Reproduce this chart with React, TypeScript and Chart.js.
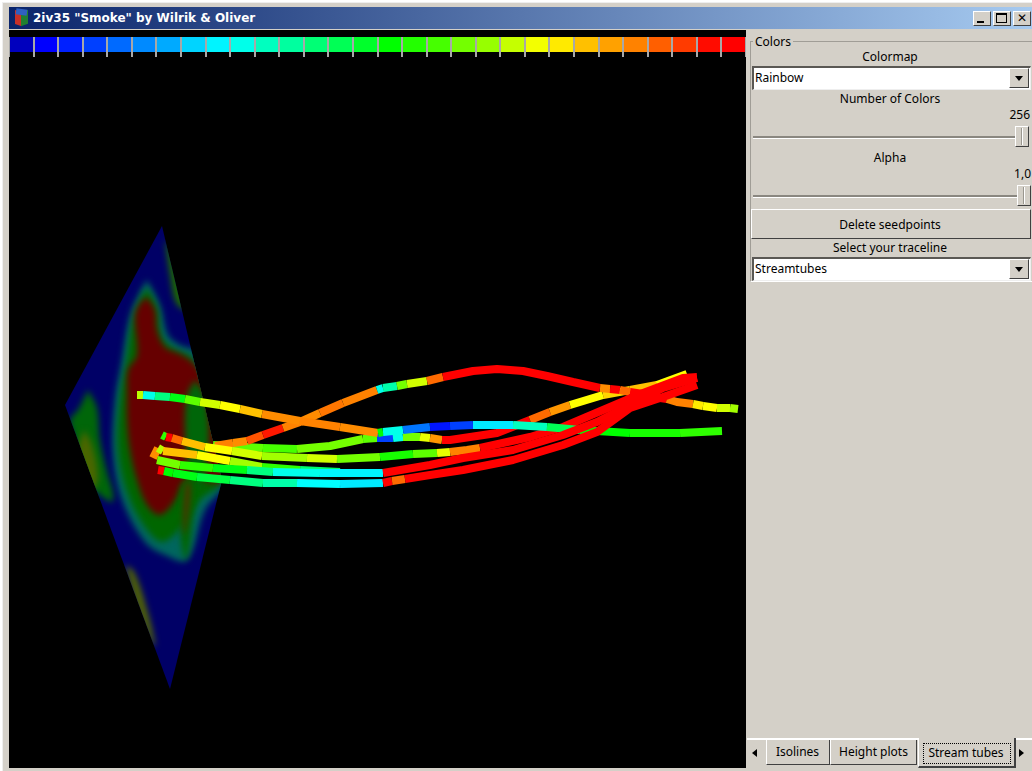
import React, { useEffect, useRef } from "react";
import { Chart, registerables } from "chart.js";

Chart.register(...registerables);

// ---------- colour bar ----------
const colorbarValues = [0.0, 0.04, 0.07, 0.1, 0.14, 0.17, 0.2, 0.24, 0.27, 0.3, 0.34, 0.37, 0.41, 0.44, 0.48, 0.52, 0.55, 0.58, 0.62, 0.65, 0.69, 0.73, 0.76, 0.8, 0.83, 0.86, 0.89, 0.92, 0.96, 1.0];
const colorbarLabels = ["1","2","3","4","5","6","7","8","9","10","11","12","13","14","15","16","17","18","19","20","21","22","23","24","25","26","27","28","29","30"];

// ---------- slice plane (outlines in view coordinates) ----------
const sliceX = [162, 65, 170, 222, 162];
const sliceY = [226, 405, 689, 480, 226];
const sliceLevel = 0.04;

const tealX = [147, 160, 168, 180, 197, 212, 226, 205, 187, 165, 145, 122, 113, 115, 122, 130, 140, 147];
const tealY = [280, 305, 335, 345, 352, 395, 480, 510, 560, 555, 542, 500, 455, 400, 360, 315, 292, 280];
const tealLevel = 0.3;

const greenX = [147, 157, 162, 176, 192, 208, 222, 200, 183, 163, 147, 128, 118, 120, 126, 133, 141, 147];
const greenY = [288, 308, 338, 350, 358, 398, 480, 500, 525, 542, 530, 495, 450, 400, 365, 320, 298, 288];
const greenLevel = 0.52;

const redX = [147, 155, 157, 165, 178, 190, 200, 212, 222, 196, 183, 175, 160, 147, 137, 130, 127, 127, 128, 137, 135, 141, 147];
const redY = [297, 310, 330, 347, 353, 360, 372, 410, 480, 480, 482, 500, 515, 505, 480, 450, 420, 395, 370, 355, 315, 302, 297];
const redLevel = 1;

const ovalX = [195, 205, 209, 206, 198, 189, 185, 187, 195];
const ovalY = [380, 396, 430, 470, 490, 470, 430, 396, 380];
const ovalLevel = 0.5;

const stripeX = [186, 196, 192, 186, 181, 180, 186];
const stripeY = [478, 480, 525, 560, 540, 505, 478];
const stripeLevel = 0.52;

const stripeCoreX = [186, 190, 187, 184, 184, 186];
const stripeCoreY = [482, 484, 520, 535, 510, 482];
const stripeCoreLevel = 0.9;

const blobX = [88, 97, 100, 108, 113, 112, 100, 84, 74, 70, 78, 88];
const blobY = [390, 408, 440, 475, 492, 502, 495, 482, 440, 420, 410, 390];
const blobLevel = 0.5;

const blobCoreX = [84, 92, 98, 92, 84, 78, 84];
const blobCoreY = [430, 445, 478, 490, 478, 450, 430];
const blobCoreLevel = 0.68;

const edgeTopX = [165, 172, 190, 186, 176, 170, 165];
const edgeTopY = [240, 250, 305, 310, 303, 275, 240];
const edgeTopLevel = 0.58;

const edgeLowX = [125, 134, 147, 155, 152, 138, 125];
const edgeLowY = [565, 572, 610, 645, 645, 610, 565];
const edgeLowLevel = 0.7;

// ---------- stream tubes ----------
const tubeAX = [137, 143, 155, 170, 185, 200, 220, 240, 262, 300, 340, 378, 383, 403, 430, 450, 473, 513, 547, 580, 630, 680, 722];
const tubeAY = [395, 395, 396, 397, 399, 402, 405, 409, 414, 421, 427, 433, 432, 430, 427, 426, 425, 425, 427, 430, 433, 433, 431];
const tubeAV = [0.68, 0.3, 0.4, 0.5, 0.6, 0.7, 0.74, 0.8, 0.85, 0.86, 0.85, 0.52, 0.3, 0.15, 0.06, 0.1, 0.26, 0.34, 0.44, 0.52, 0.54, 0.56, 0.56];

const tubeBX = [215, 233, 247, 263, 283, 300, 320, 343, 377, 383, 397, 407, 427, 443, 473, 497, 523, 547, 573, 600, 610, 620, 630, 643, 653, 667, 677, 693, 703, 717, 730, 738];
const tubeBY = [446, 443, 441, 435, 428, 422, 413, 403, 390, 388, 386, 384, 381, 377, 371, 369, 371, 376, 382, 388, 389, 390, 392, 394, 397, 399, 402, 404, 406, 408, 408, 409];
const tubeBV = [0.86, 0.85, 0.9, 0.95, 0.86, 0.85, 0.87, 0.86, 0.3, 0.36, 0.62, 0.7, 0.88, 1, 1, 1, 1, 1, 1, 0.85, 1, 0.88, 1, 0.86, 1, 0.86, 0.86, 0.76, 0.74, 0.7, 0.66, 0.66];

const tubeCX = [162, 166, 172, 182, 205, 232, 262, 307, 337, 380, 413, 437, 450, 467, 480, 530, 563, 603, 643, 683, 697];
const tubeCY = [435, 437, 438, 441, 447, 451, 456, 458, 459, 457, 454, 453, 452, 450, 448, 437, 427, 410, 393, 378, 377];
const tubeCV = [0.56, 1, 0.88, 0.8, 0.74, 0.7, 0.66, 0.7, 0.62, 0.54, 0.6, 0.72, 0.86, 0.86, 1, 1, 1, 1, 1, 1, 1];

const tubeDX = [213, 263, 297, 330, 363, 377, 393, 403, 420, 430, 442, 450, 497, 530, 550, 570, 603, 630, 657, 687];
const tubeDY = [445, 448, 449, 446, 439, 438, 438, 437, 437, 438, 440, 440, 433, 420, 412, 405, 395, 390, 385, 374];
const tubeDV = [0.6, 0.58, 0.62, 0.62, 0.6, 0.1, 0.3, 0.62, 0.72, 0.84, 1, 1, 1, 0.88, 0.84, 0.74, 0.78, 0.8, 0.74, 0.72];

const tubeEX = [158, 164, 173, 197, 230, 263, 297, 340, 383, 392, 405, 430, 463, 513, 563, 597, 630, 663, 697];
const tubeEY = [470, 471, 473, 477, 480, 483, 483, 484, 483, 481, 479, 475, 470, 460, 445, 432, 408, 397, 385];
const tubeEV = [1, 0.52, 0.5, 0.46, 0.4, 0.36, 0.28, 0.26, 0.97, 0.88, 1, 1, 1, 1, 1, 1, 1, 1, 1];

const tubeFX = [157, 180, 213, 247, 273, 320, 383, 430, 463, 513, 563, 597, 630, 663, 697];
const tubeFY = [460, 465, 468, 470, 472, 473, 473, 465, 458, 450, 435, 422, 405, 388, 378];
const tubeFV = [0.62, 0.56, 0.5, 0.4, 0.3, 0.27, 1, 1, 1, 1, 1, 1, 1, 1, 1];

const tubeGX = [153, 158, 163, 197, 230, 262, 300, 340];
const tubeGY = [458, 448, 451, 455, 461, 467, 470, 472];
const tubeGV = [0.85, 0.68, 0.8, 0.74, 0.66, 0.56, 0.42, 0.32];

const STOPS: [number, number[]][] = [
  [0, [0, 0, 190]],
  [0.04, [0, 0, 255]],
  [0.28, [0, 255, 255]],
  [0.52, [0, 255, 0]],
  [0.74, [255, 255, 0]],
  [0.86, [255, 130, 0]],
  [0.97, [255, 0, 0]],
  [1, [255, 0, 0]],
];

function rainbow(v: number, k = 1) {
  for (let i = 1; i < STOPS.length; i++) {
    if (v <= STOPS[i][0]) {
      const [a, ca] = STOPS[i - 1];
      const [b, cb] = STOPS[i];
      const t = (v - a) / (b - a);
      const c = ca.map((q, j) => Math.round((q + (cb[j] - q) * t) * k));
      return `rgb(${c[0]},${c[1]},${c[2]})`;
    }
  }
  return `rgb(${255 * k},0,0)`;
}

const points = (xs: number[], ys: number[]) => xs.map((x, i) => ({ x, y: ys[i] }));

function region(label: string, xs: number[], ys: number[], level: number, order: number, tension = 0.35) {
  return {
    label,
    data: points(xs, ys),
    order,
    fill: "shape",
    backgroundColor: rainbow(level, 0.4),
    borderWidth: 0,
    borderColor: "transparent",
    pointRadius: 0,
    tension,
  };
}

function tube(label: string, xs: number[], ys: number[], vs: number[], order: number) {
  return {
    label,
    data: points(xs, ys),
    order,
    fill: false,
    borderWidth: 8,
    borderColor: rainbow(vs[0]),
    borderCapStyle: "butt",
    borderJoinStyle: "bevel",
    pointRadius: 0,
    tension: 0,
    segment: { borderColor: (c: any) => rainbow(vs[c.p0DataIndex]) },
  };
}

const softenPlugin = {
  id: "soften",
  afterDatasetDraw(chart: any, args: any) {
    const label = chart.data.datasets[args.index].label;
    const ctx = chart.ctx;
    if (label === "slice") {
      const sx = chart.scales.x;
      const sy = chart.scales.y;
      ctx.save();
      ctx.beginPath();
      sliceX.forEach((x, i) => {
        const px = sx.getPixelForValue(x);
        const py = sy.getPixelForValue(sliceY[i]);
        if (i === 0) ctx.moveTo(px, py);
        else ctx.lineTo(px, py);
      });
      ctx.closePath();
      ctx.clip();
      ctx.filter = "blur(3px)";
    }
    if (label === "edgeLow") {
      ctx.restore();
    }
  },
};

const FONT = '"Noto Sans", sans-serif';
const FACE = "#d4d0c8";

function Text({ x, y, w, align, children, color, font }: any) {
  return (
    <div
      style={{
        position: "absolute",
        left: x,
        top: y - 9,
        width: w,
        height: 18,
        lineHeight: "18px",
        textAlign: align || "center",
        fontFamily: font || FONT,
        fontSize: 12,
        color: color || "#000",
        whiteSpace: "nowrap",
      }}
    >
      {children}
    </div>
  );
}

function Box({ x, y, w, h, style }: any) {
  return <div style={{ position: "absolute", left: x, top: y, width: w, height: h, boxSizing: "border-box", ...style }} />;
}

const raised = {
  background: FACE,
  borderTop: "1px solid #fff",
  borderLeft: "1px solid #fff",
  borderRight: "1px solid #404040",
  borderBottom: "1px solid #404040",
};

function Combo({ y, label }: any) {
  return (
    <>
      <Box x={752} y={y} w={279} h={24} style={{ background: "#fff", borderTop: "2px solid #5a5854", borderLeft: "2px solid #5a5854", borderRight: "1px solid #eee", borderBottom: "1px solid #eee" }} />
      <Text x={755} y={y + 12} w={200} align="left">{label}</Text>
      <Box x={1009} y={y + 2} w={20} h={20} style={raised} />
      <Box x={1015} y={y + 10} w={0} h={0} style={{ borderLeft: "4px solid transparent", borderRight: "4px solid transparent", borderTop: "5px solid #000" }} />
    </>
  );
}

function Slider({ y, handle }: any) {
  return (
    <>
      <Box x={753} y={y} w={276} h={3} style={{ background: "#8a8780", borderBottom: "1px solid #fff" }} />
      <Box x={handle} y={y - 10} w={14} h={21} style={raised} />
      <Box x={handle + 6} y={y - 8} w={2} h={17} style={{ borderLeft: "1px solid #9a978f", borderRight: "1px solid #fff" }} />
    </>
  );
}

export default function App() {
  const mainRef = useRef<HTMLCanvasElement>(null);
  const barRef = useRef<HTMLCanvasElement>(null);

  useEffect(() => {
    const main = new Chart(mainRef.current!, {
      type: "line",
      data: {
        datasets: [
          tube("Tube A", tubeAX, tubeAY, tubeAV, 3),
          tube("Tube B", tubeBX, tubeBY, tubeBV, 5),
          tube("Tube C", tubeCX, tubeCY, tubeCV, 4),
          tube("Tube D", tubeDX, tubeDY, tubeDV, 6),
          tube("Tube E", tubeEX, tubeEY, tubeEV, 1),
          tube("Tube F", tubeFX, tubeFY, tubeFV, 2),
          tube("Tube G", tubeGX, tubeGY, tubeGV, 3),
          region("slice", sliceX, sliceY, sliceLevel, 100, 0),
          region("teal", tealX, tealY, tealLevel, 90),
          region("green", greenX, greenY, greenLevel, 89),
          region("red", redX, redY, redLevel, 88),
          region("oval", ovalX, ovalY, ovalLevel, 87),
          region("stripe", stripeX, stripeY, stripeLevel, 86),
          region("stripeCore", stripeCoreX, stripeCoreY, stripeCoreLevel, 85),
          region("blob", blobX, blobY, blobLevel, 84),
          region("blobCore", blobCoreX, blobCoreY, blobCoreLevel, 83),
          region("edgeTop", edgeTopX, edgeTopY, edgeTopLevel, 82),
          region("edgeLow", edgeLowX, edgeLowY, edgeLowLevel, 81),
        ] as any,
      },
      options: {
        animation: false,
        responsive: false,
        devicePixelRatio: 1,
        layout: { padding: 0 },
        plugins: { legend: { display: false }, tooltip: { enabled: false } },
        scales: {
          x: { type: "linear", min: 9, max: 746, display: false },
          y: { type: "linear", min: 30, max: 768, reverse: true, display: false },
        },
      },
      plugins: [softenPlugin],
    } as any);

    const bar = new Chart(barRef.current!, {
      type: "bar",
      data: {
        labels: colorbarLabels,
        datasets: [
          {
            data: colorbarValues.map(() => 1),
            backgroundColor: colorbarValues.map((v) => rainbow(v)),
            barPercentage: 1,
            categoryPercentage: 1,
            borderWidth: 0,
          },
        ],
      },
      options: {
        animation: false,
        responsive: false,
        devicePixelRatio: 1,
        layout: { padding: { top: 7, left: 0, right: 0, bottom: 0 } },
        plugins: { legend: { display: false }, tooltip: { enabled: false } },
        scales: {
          x: {
            type: "category",
            grid: { color: "#a8a8a8", lineWidth: 2, tickLength: 5, z: 1, drawTicks: true, offset: true },
            border: { display: false },
            ticks: { display: false, autoSkip: false },
          },
          y: { min: 0, max: 1, display: false },
        },
      },
    } as any);

    return () => {
      main.destroy();
      bar.destroy();
    };
  }, []);

  return (
    <div style={{ position: "absolute", left: 0, top: 0, width: 1032, height: 771, overflow: "hidden", background: "#fff", fontFamily: FONT }}>
      {/* window frame */}
      <Box x={2} y={2} w={1030} h={769} style={{ background: FACE, borderTop: "1px solid #eee", borderLeft: "1px solid #eee" }} />
      {/* title bar */}
      <Box x={9} y={7} w={1023} h={22} style={{ background: "linear-gradient(to right, #0a246a 0%, #a6caf0 100%)" }} />
      <Box x={15} y={11} w={6} h={14} style={{ background: "#c83028", transform: "skewY(20deg)" }} />
      <Box x={21} y={11} w={7} h={14} style={{ background: "#208030", transform: "skewY(-20deg)" }} />
      <Box x={16} y={9} w={11} h={6} style={{ background: "#3060c0", transform: "rotate(8deg)" }} />
      <Text x={33} y={18} w={300} align="left" color="#fff" font='"DejaVu Sans", sans-serif'>
        <b>2iv35 "Smoke" by Wilrik &amp; Oliver</b>
      </Text>
      {/* window buttons */}
      <Box x={973} y={11} w={18} h={15} style={raised} />
      <Box x={977} y={21} w={7} h={2} style={{ background: "#000" }} />
      <Box x={993} y={11} w={18} h={15} style={raised} />
      <Box x={996} y={13} w={11} h={10} style={{ border: "1px solid #000", borderTop: "2px solid #000" }} />
      <Box x={1013} y={11} w={18} h={15} style={raised} />
      <Text x={1013} y={18} w={17}>✕</Text>

      {/* drawing area */}
      <canvas ref={mainRef} width={737} height={738} style={{ position: "absolute", left: 9, top: 30, width: 737, height: 738, background: "#000" }} />
      <canvas ref={barRef} width={737} height={27} style={{ position: "absolute", left: 9, top: 30, width: 737, height: 27 }} />

      {/* colours group */}
      <Box x={750} y={41} w={282} h={241} style={{ borderTop: "1px solid #a09d96", borderLeft: "1px solid #a09d96", borderBottom: "1px solid #fff" }} />
      <div style={{ position: "absolute", left: 753, top: 33, height: 18, lineHeight: "18px", padding: "0 2px", fontSize: 12, background: FACE, color: "#000" }}>Colors</div>
      <Text x={750} y={57} w={280}>Colormap</Text>
      <Combo y={66} label="Rainbow" />
      <Text x={750} y={99} w={280}>Number of Colors</Text>
      <Text x={930} y={115} w={100} align="right">256</Text>
      <Slider y={136} handle={1015} />
      <Text x={750} y={158} w={280}>Alpha</Text>
      <Text x={930} y={174} w={101} align="right">1,0</Text>
      <Slider y={195} handle={1017} />
      <Box x={751} y={209} w={280} h={30} style={raised} />
      <Text x={750} y={225} w={280}>Delete seedpoints</Text>
      <Text x={750} y={248} w={280}>Select your traceline</Text>
      <Combo y={257} label="Streamtubes" />

      {/* tabs */}
      <Box x={747} y={738} w={285} h={2} style={{ background: "#fff" }} />
      <Box x={747} y={740} w={19} h={28} style={{ background: FACE }} />
      <Box x={752} y={749} w={0} h={0} style={{ borderTop: "4px solid transparent", borderBottom: "4px solid transparent", borderRight: "5px solid #000" }} />
      <Box x={766} y={740} w={64} h={25} style={{ background: FACE, borderLeft: "1px solid #fff", borderRight: "1px solid #404040", borderBottom: "1px solid #404040" }} />
      <Text x={766} y={752} w={63}>Isolines</Text>
      <Box x={830} y={740} w={87} h={25} style={{ background: FACE, borderLeft: "1px solid #fff", borderRight: "1px solid #404040", borderBottom: "1px solid #404040" }} />
      <Text x={830} y={752} w={87}>Height plots</Text>
      <Box x={918} y={738} w={98} h={30} style={{ background: FACE, borderLeft: "1px solid #fff", borderRight: "2px solid #404040", borderBottom: "2px solid #404040" }} />
      <Box x={923} y={743} w={88} h={21} style={{ border: "1px dotted #000" }} />
      <Text x={920} y={753} w={92}>Stream tubes</Text>
      <Box x={1019} y={749} w={0} h={0} style={{ borderTop: "4px solid transparent", borderBottom: "4px solid transparent", borderLeft: "5px solid #000" }} />
    </div>
  );
}
